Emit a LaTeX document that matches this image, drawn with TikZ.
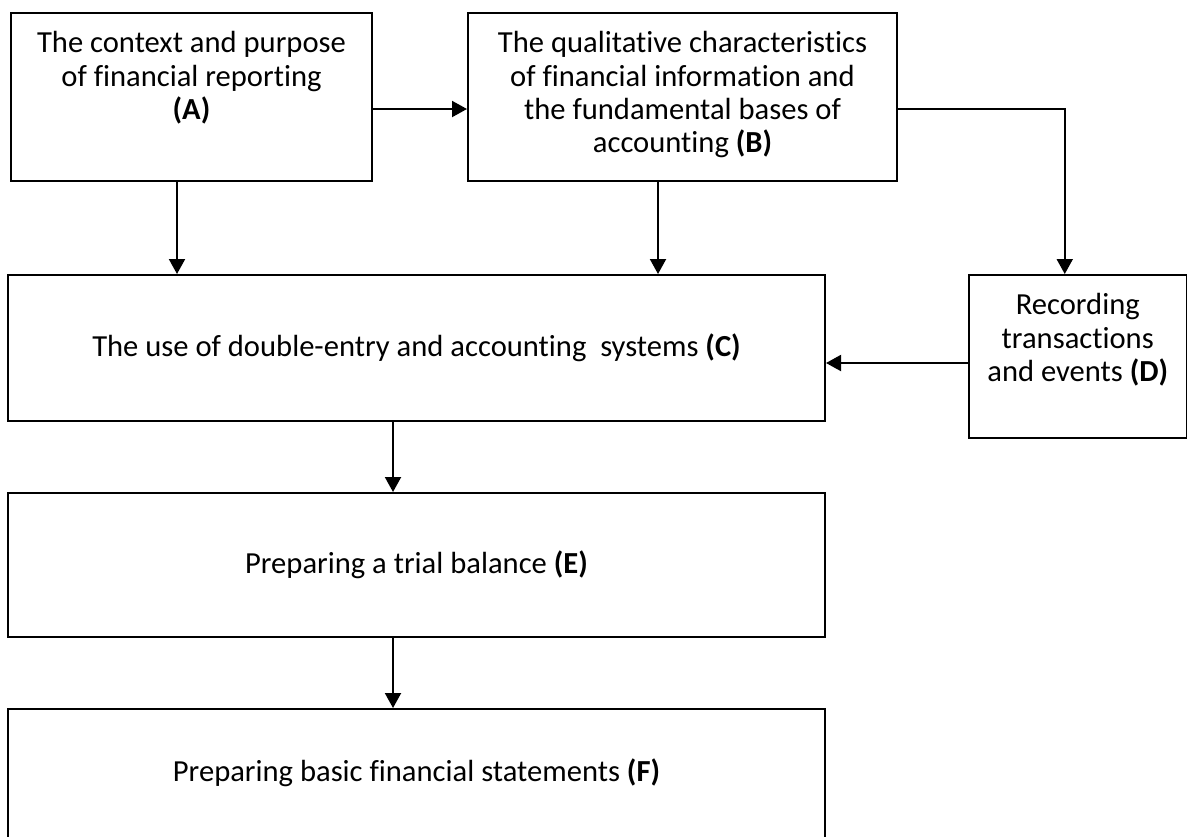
\documentclass[tikz,border=0pt]{standalone}
\usepackage{fontspec}
\setmainfont{Carlito}[Ligatures=NoCommon]
\usetikzlibrary{positioning,arrows.meta}

\begin{document}
\begin{tikzpicture}[x=0.5pt,y=-0.5pt,
  box/.style={draw,line width=1pt,inner sep=0pt,anchor=north west},
  txt/.style={align=center,inner sep=0pt,font=\fontsize{15.3}{16.7}\selectfont},
  arr/.style={line width=1pt,-{Triangle[length=7.5pt,width=8pt]}},
  node distance=9.5pt]
\useasboundingbox (0,0) rectangle (1187,836);
\clip (0,0) rectangle (1187,836);

\node[box,minimum width=180.5pt,minimum height=84pt] (A) at (10,12) {};
\node[box,minimum width=214.5pt,minimum height=84pt] (B) at (467,12) {};
\node[box,minimum width=408.5pt,minimum height=73pt] (C) at (7,274) {};
\node[box,minimum width=108.75pt,minimum height=81.5pt] (D) at (968,274) {};
\node[box,minimum width=408.5pt,minimum height=72pt] (E) at (7,492) {};
\node[box,minimum width=408.5pt,minimum height=90pt] (F) at (7,708) {};

\node[txt,below=of A.north] (At) {The context and purpose\\of financial reporting\\\textbf{(A)}};
\node[txt,below=of B.north] (Bt) {The qualitative characteristics\\of financial information and\\the fundamental bases of\\accounting \textbf{(B)}};
\node[txt] (Ct) at (C.center) {The use of double-entry and accounting\ \ systems \textbf{(C)}};
\node[txt,below=of D.north] (Dt) {Recording\\transactions\\and events \textbf{(D)}};
\node[txt] (Et) at (E.center) {Preparing a trial balance \textbf{(E)}};
\node[txt,below=25pt of F.north] (Ft) {Preparing basic financial statements \textbf{(F)}};

\coordinate (a1) at ([xshift=-7.25pt]A.south);
\coordinate (b1) at ([xshift=-12.25pt]B.south);
\coordinate (b2) at ([yshift=-6pt]B.east);
\coordinate (d1) at ([xshift=-6.5pt]D.north);
\coordinate (d2) at ([yshift=-3.25pt]D.west);
\coordinate (c1) at ([xshift=-11.75pt]C.south);
\coordinate (e1) at ([xshift=-11.75pt]E.south);

\draw[arr] ([yshift=-6pt]A.east) -- ([yshift=-6pt]B.west);
\draw[arr] (a1) -- (a1 |- C.north);
\draw[arr] (b1) -- (b1 |- C.north);
\draw[arr] (b2) -| (d1);
\draw[arr] (d2) -- (d2 -| C.east);
\draw[arr] (c1) -- (c1 |- E.north);
\draw[arr] (e1) -- (e1 |- F.north);
\end{tikzpicture}
\end{document}
